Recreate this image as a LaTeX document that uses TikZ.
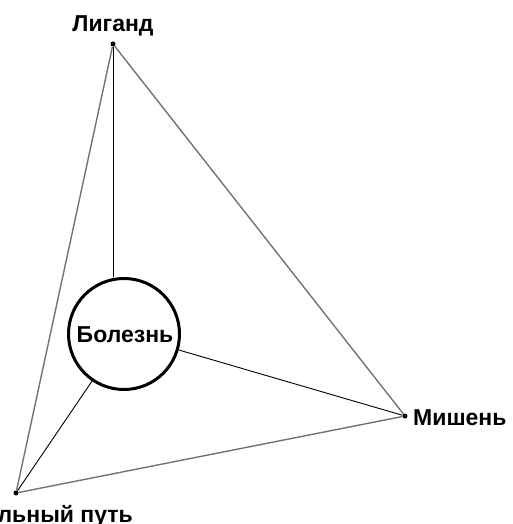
\documentclass[tikz,border=0pt]{standalone}
\usepackage{fontspec}
\setmainfont{Liberation Sans}
\begin{document}
\begin{tikzpicture}[x=1pt,y=-1pt,
  lbl/.style={font=\bfseries\fontsize{23}{26}\selectfont, inner sep=0pt},
  pt/.style={circle, fill=black, inner sep=0pt, minimum size=5pt},
  outer/.style={draw=black!55, line width=1.4pt},
  inner/.style={draw=black, line width=0.9pt}]
\useasboundingbox (0,0) rectangle (512,524);
\node[pt] (L) at (113,44) {};
\node[pt] (P) at (16,493) {};
\node[pt] (T) at (405,416) {};
\node[circle, draw=black, line width=3pt, minimum size=111pt, inner sep=0pt] (C) at (124,334) {};
\node[lbl, anchor=base] (tL) at (113,32) {Лиганд};
\node[lbl, anchor=base west] (tT) at (413,425) {Мишень};
\node[lbl, anchor=base east] (tP) at (133,522) {Сигнальный путь};
\node[lbl, anchor=base] (tC) at (125,342) {Болезнь};
\draw[outer] (L) -- (T);
\draw[outer] (L) -- (P);
\draw[outer] (P) -- (T);
\draw[inner] (L) -- (L |- C.north);
\draw[inner] (C) -- (T);
\draw[inner] (C) -- (P);
\end{tikzpicture}
\end{document}
